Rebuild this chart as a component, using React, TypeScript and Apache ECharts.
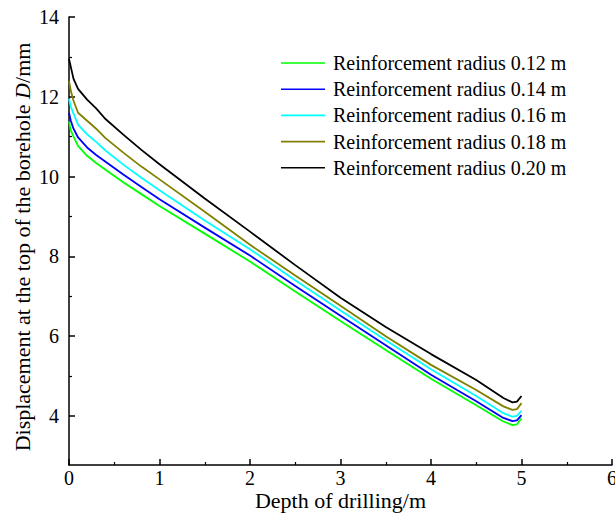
import React, { useEffect, useRef } from "react";
import * as echarts from "echarts";

const depth = [0, 0.02, 0.05, 0.1, 0.2, 0.3, 0.4, 0.6, 0.8, 1.0, 1.5, 2.0, 2.5, 3.0, 3.5, 4.0, 4.5, 4.8, 4.9, 4.95, 5.0];
const r012 = [11.38, 11.15, 11.0, 10.77, 10.52, 10.34, 10.18, 9.86, 9.56, 9.26, 8.57, 7.87, 7.12, 6.38, 5.65, 4.93, 4.27, 3.86, 3.77, 3.79, 3.94];
const r014 = [11.6, 11.4, 11.2, 10.98, 10.73, 10.54, 10.38, 10.05, 9.74, 9.43, 8.72, 8.02, 7.26, 6.51, 5.77, 5.03, 4.37, 3.95, 3.87, 3.89, 4.02];
const r016 = [11.95, 11.75, 11.58, 11.3, 11.06, 10.87, 10.66, 10.3, 9.97, 9.66, 8.9, 8.18, 7.4, 6.64, 5.9, 5.17, 4.5, 4.07, 3.98, 4.0, 4.13];
const r018 = [12.4, 12.15, 11.9, 11.6, 11.4, 11.2, 10.97, 10.6, 10.25, 9.93, 9.12, 8.29, 7.52, 6.76, 6.0, 5.28, 4.65, 4.24, 4.15, 4.17, 4.32];
const r020 = [12.95, 12.75, 12.45, 12.2, 11.93, 11.71, 11.45, 11.05, 10.67, 10.31, 9.45, 8.62, 7.78, 6.96, 6.23, 5.55, 4.9, 4.45, 4.34, 4.36, 4.5];

const seriesNames = [
  "Reinforcement radius 0.12 m",
  "Reinforcement radius 0.14 m",
  "Reinforcement radius 0.16 m",
  "Reinforcement radius 0.18 m",
  "Reinforcement radius 0.20 m",
];
const seriesValues = [r012, r014, r016, r018, r020];
const seriesColors = ["#00ff00", "#0000ff", "#00ffff", "#808000", "#000000"];

const yMajorTicks = [4, 6, 8, 10, 12, 14];
const yMinorTicks = [5, 7, 9, 11, 13];

const FONT = "'Liberation Serif', 'Times New Roman', serif";

export default function App() {
  const ref = useRef<HTMLDivElement>(null);
  useEffect(() => {
    if (!ref.current) return;
    const chart = echarts.init(ref.current, null, { renderer: "svg" });
    const yMin = 2.77;
    const yMax = 14;
    chart.setOption({
      animation: false,
      backgroundColor: "#ffffff",
      textStyle: { fontFamily: FONT, color: "#000" },
      grid: { left: 69, right: 3, top: 17, bottom: 49, containLabel: false, outerBoundsMode: "none" },
      legend: {
        orient: "vertical",
        left: 281,
        top: 53,
        padding: 0,
        icon: "rect",
        itemWidth: 44,
        itemHeight: 1.6,
        itemGap: 6.2,
        textStyle: { fontFamily: FONT, fontSize: 20, color: "#000", lineHeight: 20, padding: [0, 0, 0, 3] },
        data: seriesNames,
      },
      xAxis: {
        type: "value",
        min: 0,
        max: 6,
        interval: 1,
        name: "Depth of drilling/m",
        nameLocation: "middle",
        nameGap: 24,
        nameMoveOverlap: false,
        nameTextStyle: { fontFamily: FONT, fontSize: 22, color: "#000" },
        axisLine: { show: true, onZero: false, lineStyle: { color: "#000", width: 1.5 } },
        axisTick: { show: true, inside: true, length: 6, lineStyle: { color: "#000", width: 1.5 } },
        minorTick: { show: true, splitNumber: 2, length: 3, lineStyle: { color: "#000", width: 1.2 } },
        axisLabel: { fontFamily: FONT, fontSize: 20, color: "#000", margin: 3 },
        splitLine: { show: false },
      },
      yAxis: [
        {
          type: "value",
          min: yMin,
          max: yMax,
          name: "{a|Displacement at the top of the borehole }{b|D}{a|/mm}",
          nameLocation: "middle",
          nameGap: 36,
          nameMoveOverlap: false,
          nameRotate: 90,
          nameTextStyle: {
            fontFamily: FONT,
            fontSize: 22,
            color: "#000",
            padding: [0, 12, 0, 0],
            rich: {
              a: { fontFamily: FONT, fontSize: 22, color: "#000" },
              b: { fontFamily: FONT, fontSize: 22, color: "#000", fontStyle: "italic" },
            },
          },
          axisLine: { show: true, onZero: false, lineStyle: { color: "#000", width: 1.5 } },
          axisTick: { show: true, inside: true, length: 6, customValues: yMajorTicks, lineStyle: { color: "#000", width: 1.5 } },
          axisLabel: { fontFamily: FONT, fontSize: 20, color: "#000", margin: 10, customValues: yMajorTicks },
          splitLine: { show: false },
        },
        {
          type: "value",
          min: yMin,
          max: yMax,
          position: "left",
          axisLine: { show: false },
          axisTick: { show: true, inside: true, length: 3, customValues: yMinorTicks, lineStyle: { color: "#000", width: 1.2 } },
          axisLabel: { show: false, customValues: yMinorTicks },
          splitLine: { show: false },
        },
      ],
      series: seriesNames.map((name, i) => ({
        name,
        type: "line",
        yAxisIndex: 0,
        symbol: "none",
        showSymbol: false,
        smooth: false,
        color: seriesColors[i],
        lineStyle: { color: seriesColors[i], width: 1.8 },
        data: depth.map((d, j) => [d, seriesValues[i][j]]),
      })),
    });
    return () => chart.dispose();
  }, []);
  return <div ref={ref} style={{ position: "fixed", left: 0, top: 0, width: 615, height: 514 }} />;
}
